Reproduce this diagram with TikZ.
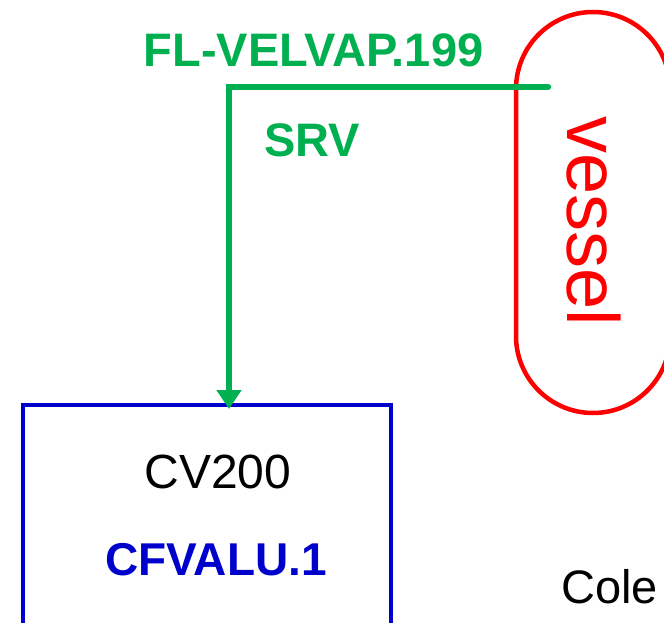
\documentclass[tikz,border=0pt]{standalone}
\usepackage{fontspec}
\setmainfont{Liberation Sans}
\usetikzlibrary{arrows.meta,calc}
\definecolor{flgreen}{HTML}{00B050}
\definecolor{cvblue}{HTML}{0000CC}
\definecolor{vred}{HTML}{FF0000}
\tikzset{
  flow/.style={draw=flgreen, line width=6.5pt, -{Triangle[width=24pt,length=19pt]}},
  greenlabel/.style={text=flgreen, font=\fontsize{47}{50}\selectfont\bfseries, inner sep=0pt},
  vesselbox/.style={draw=vred, line width=4.5pt, rounded corners=77pt, minimum width=154pt, minimum height=401pt, inner sep=0pt, outer sep=0pt},
  cvbox/.style={draw=cvblue, line width=4.5pt, minimum width=368pt, minimum height=260pt, inner sep=0pt, outer sep=0pt},
}
\begin{document}
\begin{tikzpicture}[x=1pt,y=-1pt]
\useasboundingbox (0,0) rectangle (664,623);
\clip (0,0) rectangle (664,623);
% vessel
\node[vesselbox] (vessel) at (593,212.5) {};
\node[text=vred, font=\fontsize{74}{80}\selectfont, rotate=-90, inner sep=0pt] (vlabel) at (594,221.5) {vessel};
% CV200 box
\node[cvbox, anchor=north west] (cv) at (23,405) {};
\node[font=\fontsize{48}{52}\selectfont, inner sep=0pt] (cvname) at (218,472) {CV200};
\node[text=cvblue, font=\fontsize{46}{50}\selectfont\bfseries, inner sep=0pt] (cvval) at (216,560) {CFVALU.1};
% labels
\node[greenlabel] (fl) at (313.5,50) {FL-VELVAP.199};
\node[greenlabel] (srv) at (312,140) {SRV};
\node[font=\fontsize{47}{52}\selectfont, inner sep=0pt, anchor=base west] (cole) at (561,603) {Cole};
% connector
\coordinate (s) at (548,87);
\coordinate (c) at (229,87);
\draw[flow, line cap=round, shorten >=-4pt] (s) -- (c) -- (c |- cv.north);
\end{tikzpicture}
\end{document}
